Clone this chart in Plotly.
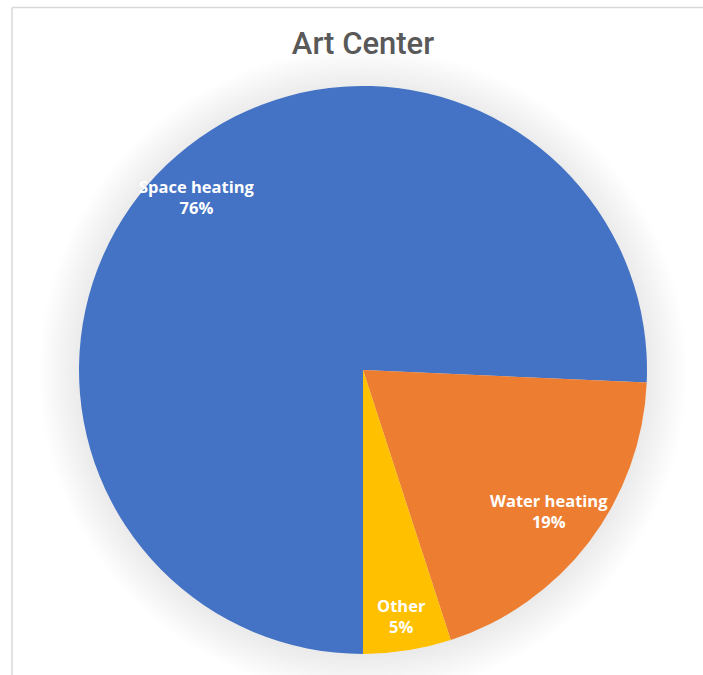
import math
import plotly.graph_objects as go

# Energy end-use shares for the Art Center
categories = ["Space heating", "Water heating", "Other"]
shares = [75.7, 19.3, 5.0]
colors = ["#4472C4", "#ED7D31", "#FFC000"]
label_radius = [0.845, 0.822, 0.877]  # radial placement of each data label (fraction of radius)

W, H = 703, 675
cx_px, cy_px, r_px = 363, 370, 284  # pie centre / radius in pixels
start_angle = 180  # first slice starts at 6 o'clock, going clockwise

dom_x = [(cx_px - r_px) / W, (cx_px + r_px) / W]
dom_y = [(H - cy_px - r_px) / H, (H - cy_px + r_px) / H]

fig = go.Figure(
    go.Pie(
        labels=categories,
        values=shares,
        sort=False,
        direction="clockwise",
        rotation=start_angle,
        marker=dict(colors=colors, line=dict(width=0)),
        textinfo="none",
        hoverinfo="label+percent",
        showlegend=False,
        domain=dict(x=dom_x, y=dom_y),
    )
)

# Data labels placed along each slice's bisector
total = sum(shares)
annotations = []
acc = 0.0
for name, v, rf in zip(categories, shares, label_radius):
    mid = start_angle + (acc + v / 2) / total * 360
    acc += v
    th = math.radians(mid)
    x_px = cx_px + rf * r_px * math.sin(th)
    y_px = cy_px - rf * r_px * math.cos(th)
    pct = round(v / total * 100)
    annotations.append(
        dict(
            x=x_px / W, y=1 - y_px / H, xref="paper", yref="paper",
            text=f"{name}<br>{pct}%", showarrow=False,
            font=dict(family="Open Sans", size=16.5, color="white", weight=700),
            align="center", xanchor="center", yanchor="middle",
        )
    )

# Soft drop shadow around the pie
shapes = []
n_rings = 20
for i in range(n_rings, 0, -1):
    rr = r_px + i * 2.0
    ox, oy = 0.0, 2.0
    shapes.append(
        dict(
            type="circle", xref="paper", yref="paper", layer="below",
            x0=(cx_px + ox - rr) / W, x1=(cx_px + ox + rr) / W,
            y0=1 - (cy_px + oy + rr) / H, y1=1 - (cy_px + oy - rr) / H,
            fillcolor="rgba(0,0,0,0.0045)", line=dict(width=0),
        )
    )

# Chart-area border (top and left edges)
shapes.append(dict(type="line", xref="paper", yref="paper",
                   x0=12 / W, x1=1, y0=1 - 7.5 / H, y1=1 - 7.5 / H,
                   line=dict(color="#D9D9D9", width=1.5)))
shapes.append(dict(type="line", xref="paper", yref="paper",
                   x0=12 / W, x1=12 / W, y0=0, y1=1 - 7.5 / H,
                   line=dict(color="#D9D9D9", width=1.5)))

fig.update_layout(
    width=W, height=H,
    margin=dict(l=0, r=0, t=0, b=0),
    paper_bgcolor="white",
    plot_bgcolor="white",
    title=dict(
        text="Art Center", x=cx_px / W, xanchor="center",
        y=1 - 43 / H, yanchor="middle",
        font=dict(family="Roboto", size=31, color="#595959", weight=500),
    ),
    annotations=annotations,
    shapes=shapes,
)

fig.write_html("out.html")
